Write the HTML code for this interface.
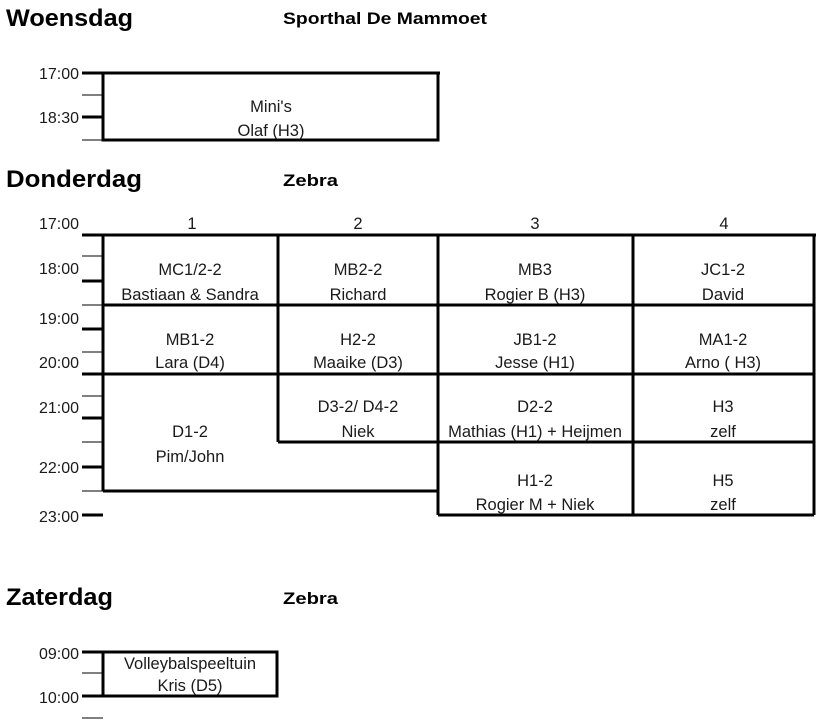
<!DOCTYPE html>
<html><head><style>
body{margin:0;background:#fff;width:816px;height:719px;overflow:hidden}
svg text{font-family:"Liberation Sans",Arial,sans-serif;fill:#1a1a1a}
.t{font-size:16.5px;text-anchor:middle}
.l{font-size:16px;text-anchor:end}
.h{font-size:24px;font-weight:bold;fill:#000}
.s{font-size:17px;font-weight:bold;fill:#000}
</style></head><body>
<svg width="816" height="719" viewBox="0 0 816 719" xmlns="http://www.w3.org/2000/svg">
<g stroke="#000" fill="none">
<line x1="82" y1="73" x2="440" y2="73" stroke-width="3"/>
<rect x="103" y="73" width="335" height="67" stroke-width="3"/>
<line x1="82" y1="95" x2="103" y2="95" stroke-width="1"/>
<line x1="82" y1="117" x2="103" y2="117" stroke-width="3"/>
<line x1="82" y1="140" x2="103" y2="140" stroke-width="1"/>
<line x1="82" y1="235" x2="816" y2="235" stroke-width="3"/>
<line x1="82" y1="256" x2="103" y2="256" stroke-width="1"/>
<line x1="82" y1="281" x2="103" y2="281" stroke-width="3"/>
<line x1="82" y1="305" x2="103" y2="305" stroke-width="1"/>
<line x1="82" y1="329" x2="103" y2="329" stroke-width="3"/>
<line x1="82" y1="352" x2="103" y2="352" stroke-width="1"/>
<line x1="82" y1="374" x2="103" y2="374" stroke-width="3"/>
<line x1="82" y1="396" x2="103" y2="396" stroke-width="1"/>
<line x1="82" y1="418" x2="103" y2="418" stroke-width="3"/>
<line x1="82" y1="442" x2="103" y2="442" stroke-width="1"/>
<line x1="82" y1="467" x2="103" y2="467" stroke-width="3"/>
<line x1="82" y1="491" x2="103" y2="491" stroke-width="1"/>
<line x1="82" y1="515" x2="103" y2="515" stroke-width="3"/>
<g stroke-width="3">
<line x1="103" y1="235" x2="103" y2="491"/>
<line x1="278" y1="235" x2="278" y2="442"/>
<line x1="438" y1="235" x2="438" y2="515"/>
<line x1="633" y1="235" x2="633" y2="515"/>
<line x1="814" y1="235" x2="814" y2="515"/>
<line x1="103" y1="305" x2="814" y2="305"/>
<line x1="103" y1="374" x2="814" y2="374"/>
<line x1="278" y1="442" x2="438" y2="442"/>
<line x1="438" y1="442" x2="814" y2="442"/>
<line x1="103" y1="491" x2="438" y2="491"/>
<line x1="438" y1="515" x2="814" y2="515"/>
</g>
<line x1="82" y1="652" x2="278" y2="652" stroke-width="3"/>
<rect x="103" y="652" width="174" height="44" stroke-width="3"/>
<line x1="82" y1="673" x2="103" y2="673" stroke-width="1"/>
<line x1="82" y1="696" x2="103" y2="696" stroke-width="3"/>
<line x1="82" y1="718" x2="103" y2="718" stroke-width="1"/>
</g>
<text class="h" x="6" y="26" textLength="127" lengthAdjust="spacingAndGlyphs">Woensdag</text>
<text class="s" x="283" y="24" textLength="204" lengthAdjust="spacingAndGlyphs">Sporthal De Mammoet</text>
<text class="l" x="79" y="79">17:00</text>
<text class="l" x="79" y="123">18:30</text>
<text class="t" x="271" y="112">Mini's</text>
<text class="t" x="271" y="136">Olaf (H3)</text>

<text class="h" x="6" y="187" textLength="136" lengthAdjust="spacingAndGlyphs">Donderdag</text>
<text class="s" x="283" y="186" textLength="55" lengthAdjust="spacingAndGlyphs">Zebra</text>
<text class="l" x="79" y="229">17:00</text>
<text class="t" x="192" y="229">1</text>
<text class="t" x="358" y="229">2</text>
<text class="t" x="535" y="229">3</text>
<text class="t" x="724" y="229">4</text>
<text class="l" x="79" y="274">18:00</text>
<text class="l" x="79" y="324">19:00</text>
<text class="l" x="79" y="368">20:00</text>
<text class="l" x="79" y="413">21:00</text>
<text class="l" x="79" y="473">22:00</text>
<text class="l" x="79" y="522">23:00</text>

<text class="t" x="190" y="275">MC1/2-2</text><text class="t" x="190" y="300">Bastiaan &amp; Sandra</text>
<text class="t" x="358" y="275">MB2-2</text><text class="t" x="358" y="300">Richard</text>
<text class="t" x="535" y="275">MB3</text><text class="t" x="535" y="300">Rogier B (H3)</text>
<text class="t" x="723" y="275">JC1-2</text><text class="t" x="723" y="300">David</text>

<text class="t" x="190" y="345">MB1-2</text><text class="t" x="190" y="368">Lara (D4)</text>
<text class="t" x="358" y="345">H2-2</text><text class="t" x="358" y="368">Maaike (D3)</text>
<text class="t" x="535" y="345">JB1-2</text><text class="t" x="535" y="368">Jesse (H1)</text>
<text class="t" x="723" y="345">MA1-2</text><text class="t" x="723" y="368">Arno ( H3)</text>

<text class="t" x="190" y="437">D1-2</text><text class="t" x="190" y="462">Pim/John</text>
<text class="t" x="358" y="412">D3-2/ D4-2</text><text class="t" x="358" y="437">Niek</text>
<text class="t" x="535" y="412">D2-2</text><text class="t" x="535" y="437">Mathias (H1) + Heijmen</text>
<text class="t" x="723" y="412">H3</text><text class="t" x="723" y="437">zelf</text>
<text class="t" x="535" y="486">H1-2</text><text class="t" x="535" y="510">Rogier M + Niek</text>
<text class="t" x="723" y="486">H5</text><text class="t" x="723" y="510">zelf</text>

<text class="h" x="6" y="605" textLength="107" lengthAdjust="spacingAndGlyphs">Zaterdag</text>
<text class="s" x="283" y="604" textLength="55" lengthAdjust="spacingAndGlyphs">Zebra</text>
<text class="l" x="79" y="659">09:00</text>
<text class="l" x="79" y="703">10:00</text>
<text class="t" x="190" y="669">Volleybalspeeltuin</text>
<text class="t" x="190" y="691">Kris (D5)</text>
</svg>
</body></html>
